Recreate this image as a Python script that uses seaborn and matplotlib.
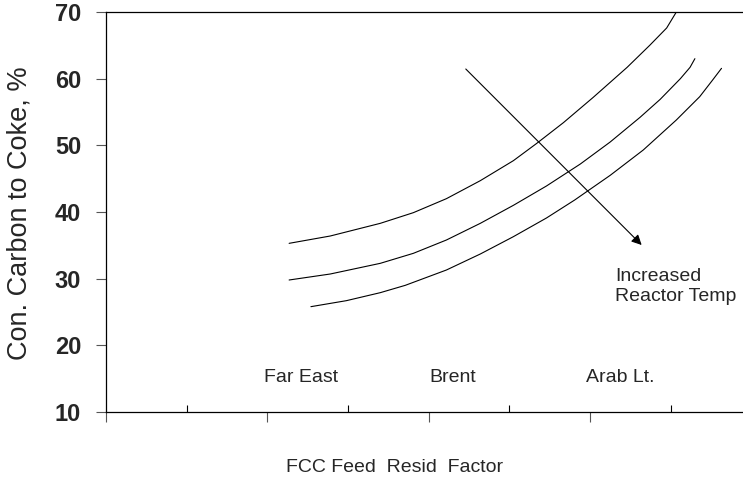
import numpy as np
import pandas as pd
import seaborn as sns
import matplotlib
matplotlib.use("Agg")
import matplotlib.pyplot as plt

# ===============================
# Data
# ===============================
# x in "resid factor" units (one unit per tick), y in %
top_x = [2.27, 2.78, 3.40, 3.81, 4.22, 4.64, 5.05, 5.34, 5.67, 6.04, 6.46, 6.74, 6.95, 7.07]
top_y = [35.3, 36.4, 38.3, 39.9, 42.0, 44.7, 47.7, 50.3, 53.4, 57.2, 61.7, 65.0, 67.6, 70.0]

mid_x = [2.27, 2.78, 3.40, 3.81, 4.22, 4.64, 5.05, 5.46, 5.88, 6.25, 6.62, 6.87, 7.12, 7.24, 7.30]
mid_y = [29.8, 30.7, 32.3, 33.8, 35.8, 38.3, 41.0, 43.9, 47.2, 50.5, 54.2, 56.9, 60.0, 61.7, 63.0]

low_x = [2.54, 2.98, 3.40, 3.71, 4.22, 4.64, 5.05, 5.46, 5.81, 6.25, 6.66, 7.07, 7.36, 7.52, 7.63]
low_y = [25.8, 26.7, 27.9, 29.0, 31.3, 33.7, 36.3, 39.1, 41.8, 45.5, 49.3, 53.8, 57.3, 59.8, 61.55]

crude_names = ["Far East", "Brent", "Arab Lt."]
crude_x = [2.42, 4.30, 6.38]
crude_y = 15.1

arrow_start = (4.46, 61.45)
arrow_end = (6.64, 35.05)

y_ticks = [10, 20, 30, 40, 50, 60, 70]

# ===============================
# Build long-form table
# ===============================
df = pd.concat([
    pd.DataFrame({"resid": top_x, "coke": top_y, "temp": "low"}),
    pd.DataFrame({"resid": mid_x, "coke": mid_y, "temp": "mid"}),
    pd.DataFrame({"resid": low_x, "coke": low_y, "temp": "high"}),
])

# ===============================
# Plot
# ===============================
sns.set_style("ticks")
plt.rcParams["font.family"] = ["Liberation Sans", "DejaVu Sans"]

fig = plt.figure(figsize=(7.43, 4.78), dpi=100)
ax = fig.add_axes([106 / 743, 66 / 478, 1 - 106 / 743, 400 / 478])

sns.lineplot(
    data=df, x="resid", y="coke", hue="temp",
    palette=["black", "black", "black"], linewidth=0.8,
    sort=False, legend=False, ax=ax,
)

ax.set_xlim(0, 637 / 80.67)
ax.set_ylim(10, 70)

# y axis
ax.set_yticks(y_ticks)
ax.set_yticklabels([str(t) for t in y_ticks], fontweight="bold")
ax.tick_params(axis="y", labelsize=17, length=7, width=0.8,
               color="#555555", pad=11)

# x axis: alternating out/in ticks, no labels
ax.set_xticks([0, 2, 4, 6])
ax.set_xticks([1, 3, 5, 7], minor=True)
ax.set_xticklabels([])
ax.tick_params(axis="x", which="major", direction="out", length=7,
               width=0.8, color="#555555")
ax.tick_params(axis="x", which="minor", direction="in", length=5,
               width=0.8, color="black")

for side in ["left", "bottom", "top"]:
    ax.spines[side].set_linewidth(0.9)
    ax.spines[side].set_color("black")
ax.spines["right"].set_visible(False)

ax.set_xlabel("FCC Feed  Resid  Factor", fontsize=14)
ax.xaxis.label.set_va("center")
ax.xaxis.set_label_coords((395 - 106) / 637, (412 - 467) / 400)

ax.set_ylabel("Con. Carbon to Coke, %", fontsize=19.5)
ax.yaxis.label.set_va("center")
ax.yaxis.set_label_coords((20 - 106) / 637, 0.496)

# crude labels
for name, cx in zip(crude_names, crude_x):
    ax.text(cx, crude_y, name, fontsize=14, ha="center", va="center")

# arrow + note
ax.annotate(
    "", xy=arrow_end, xytext=arrow_start,
    arrowprops=dict(arrowstyle="-|>", color="black", lw=0.8,
                    mutation_scale=15, shrinkA=0, shrinkB=0),
)
ax.text(6.31, 28.8, "Increased\nReactor Temp", fontsize=14,
        ha="left", va="center", linespacing=1.2)

fig.savefig("out.png", dpi=100)
